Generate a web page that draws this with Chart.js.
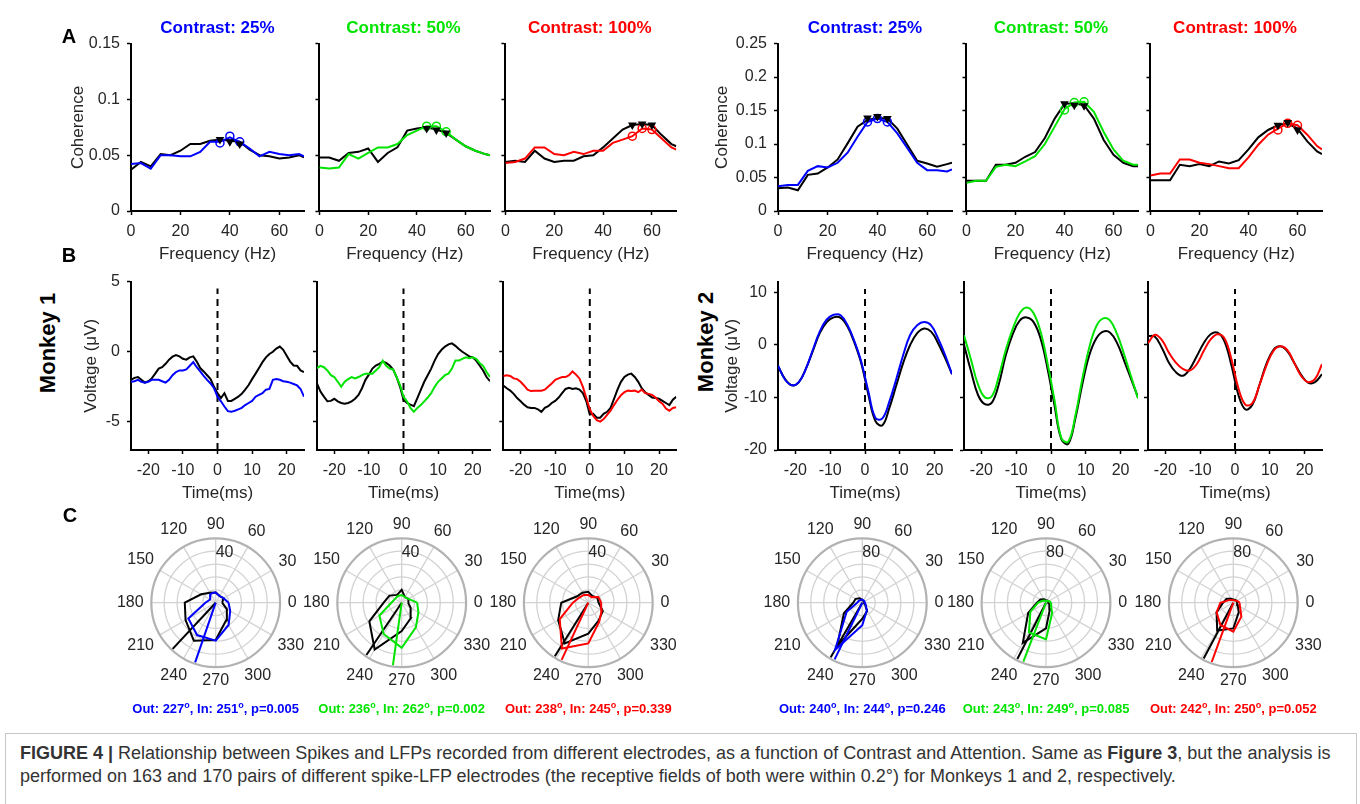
<!DOCTYPE html>
<html>
<head>
<meta charset="utf-8">
<title>Figure 4</title>
<script src="https://cdn.jsdelivr.net/npm/chart.js@4.4.1/dist/chart.umd.min.js"></script>
<style>
  body { margin: 0; background: #fff; }
  #fig { position: relative; width: 1360px; height: 804px; overflow: hidden; font-family: "Liberation Sans", Arial, sans-serif; color: #262626; }
  .lbl { position: absolute; transform: translate(-50%, -50%); white-space: nowrap; line-height: 1.2; }
  .rot { transform: translate(-50%, -50%) rotate(-90deg); }
  .ttl { font-size: 17px; font-weight: bold; }
  .let { font-size: 20px; font-weight: bold; color: #000; }
  .mky { font-size: 22px; font-weight: bold; color: #000; }
  .stat { font-size: 13px; font-weight: bold; }
  .stat sup { font-size: 9px; line-height: 0; vertical-align: 5px; }
  #cap { position: absolute; left: 5px; top: 733px; width: 1336px; height: 80px; border: 1px solid #c8c8c8; padding: 8px 0 0 14px; font-size: 18px; line-height: 23px; color: #333; white-space: nowrap; }
</style>
</head>
<body>
<div id="fig">
  <div id="cap"><b>FIGURE 4 |</b> Relationship between Spikes and LFPs recorded from different electrodes, as a function of Contrast and Attention. Same as <b>Figure 3</b>, but the analysis is<br>performed on 163 and 170 pairs of different spike-LFP electrodes (the receptive fields of both were within 0.2°) for Monkeys 1 and 2, respectively.</div>
</div>
<script>
// ---- data ----
const contrastLabels = ['Contrast: 25%', 'Contrast: 50%', 'Contrast: 100%'];

// A: coherence vs frequency
const freqHz = [0, 4, 8, 12, 16, 20, 24, 28, 32, 36, 40, 44, 48, 52, 56, 60, 64, 68, 70];
const freqTicks = [0, 20, 40, 60];
const cohTicksM1 = [0, 0.05, 0.1, 0.15];
const cohTicksM2 = [0, 0.05, 0.1, 0.15, 0.2, 0.25];

const m1Coh25Out = [0.037, 0.044, 0.040, 0.051, 0.050, 0.054, 0.060, 0.060, 0.063, 0.064, 0.063, 0.062, 0.055, 0.050, 0.049, 0.047, 0.048, 0.050, 0.048];
const m1Coh25In = [0.042, 0.043, 0.038, 0.050, 0.050, 0.049, 0.049, 0.053, 0.062, 0.062, 0.066, 0.062, 0.056, 0.049, 0.053, 0.051, 0.050, 0.051, 0.049];
const m1Coh50Out = [0.048, 0.048, 0.045, 0.052, 0.053, 0.056, 0.044, 0.052, 0.057, 0.072, 0.074, 0.075, 0.073, 0.070, 0.064, 0.058, 0.054, 0.051, 0.050];
const m1Coh50In = [0.039, 0.038, 0.039, 0.051, 0.047, 0.052, 0.057, 0.057, 0.060, 0.068, 0.072, 0.076, 0.076, 0.071, 0.064, 0.058, 0.054, 0.051, 0.050];
const m1Coh100Out = [0.044, 0.045, 0.044, 0.054, 0.047, 0.044, 0.045, 0.045, 0.049, 0.050, 0.057, 0.065, 0.073, 0.077, 0.078, 0.077, 0.068, 0.060, 0.058];
const m1Coh100In = [0.043, 0.044, 0.047, 0.057, 0.057, 0.051, 0.050, 0.053, 0.051, 0.054, 0.054, 0.061, 0.064, 0.067, 0.074, 0.073, 0.065, 0.057, 0.055];
const m2Coh25Out = [0.034, 0.035, 0.031, 0.054, 0.056, 0.065, 0.077, 0.101, 0.126, 0.136, 0.139, 0.138, 0.123, 0.099, 0.075, 0.071, 0.066, 0.070, 0.072];
const m2Coh25In = [0.037, 0.039, 0.039, 0.060, 0.067, 0.065, 0.072, 0.087, 0.111, 0.133, 0.138, 0.133, 0.116, 0.094, 0.072, 0.061, 0.061, 0.059, 0.062];
const m2Coh50Out = [0.045, 0.045, 0.045, 0.069, 0.069, 0.072, 0.081, 0.088, 0.109, 0.138, 0.160, 0.161, 0.158, 0.138, 0.106, 0.084, 0.072, 0.067, 0.067];
const m2Coh50In = [0.042, 0.045, 0.045, 0.066, 0.069, 0.067, 0.074, 0.082, 0.100, 0.126, 0.152, 0.162, 0.163, 0.148, 0.118, 0.092, 0.075, 0.069, 0.069];
const m2Coh100Out = [0.046, 0.046, 0.046, 0.069, 0.067, 0.070, 0.067, 0.074, 0.071, 0.076, 0.092, 0.110, 0.121, 0.128, 0.131, 0.123, 0.104, 0.089, 0.085];
const m2Coh100In = [0.053, 0.056, 0.056, 0.077, 0.077, 0.072, 0.070, 0.067, 0.064, 0.064, 0.080, 0.099, 0.114, 0.123, 0.131, 0.128, 0.114, 0.097, 0.092];

// peak markers (frequency, attend-out value, attend-in value)
const m1PeakHz25 = [36, 40, 44], m1PeakOut25 = [0.064, 0.062, 0.060], m1PeakIn25 = [0.061, 0.067, 0.062];
const m1PeakHz50 = [44, 48, 52], m1PeakOut50 = [0.074, 0.0725, 0.070], m1PeakIn50 = [0.076, 0.076, 0.071];
const m1PeakHz100 = [52, 56, 60], m1PeakOut100 = [0.077, 0.078, 0.077], m1PeakIn100 = [0.067, 0.074, 0.073];
const m2PeakHz25 = [36, 40, 44], m2PeakOut25 = [0.139, 0.141, 0.138], m2PeakIn25 = [0.133, 0.138, 0.133];
const m2PeakHz50 = [40, 44, 48], m2PeakOut50 = [0.160, 0.158, 0.157], m2PeakIn50 = [0.151, 0.162, 0.163];
const m2PeakHz100 = [52, 56, 60], m2PeakOut100 = [0.128, 0.132, 0.121], m2PeakIn100 = [0.121, 0.131, 0.128];

// B: spike-triggered LFP
const timeM1 = [-25, -24, -23, -22, -21, -20, -19, -18, -17, -16, -15, -14, -13, -12, -11, -10, -9, -8, -7, -6, -5, -4, -3, -2, -1,
  0, 1, 2, 3, 4, 5, 6, 7, 8, 9, 10, 11, 12, 13, 14, 15, 16, 17, 18, 19, 20, 21, 22, 23, 24, 25];
const timeM2 = [-25, -23, -21, -19, -17, -15, -13, -11, -9, -7, -5, -3, -1, 1, 3, 5, 7, 9, 11, 13, 15, 17, 19, 21, 23, 25];
const timeTicks = [-20, -10, 0, 10, 20];
const voltTicksM1 = [-5, 0, 5];
const voltTicksM2 = [-20, -10, 0, 10];
const spikeLineM1 = [-7, 4.5];
const spikeLineM2 = [-20, 10.6];

const m1Lfp25Out = [-2.0, -1.86, -1.8, -2.0, -2.2, -2.1, -1.9, -1.56, -1.2, -1.1, -0.86, -0.56, -0.35, -0.23, -0.33, -0.5, -0.56, -0.4, -0.33, -0.7, -1.16, -1.4, -1.67, -1.95, -2.5,
  -2.95, -3.3, -2.95, -3.5, -3.5, -3.35, -3.2, -3.0, -2.7, -2.37, -1.95, -1.56, -1.16, -0.74, -0.4, -0.16, 0, 0.23, 0.37, 0.14, -0.28, -0.7, -0.98, -1.0, -1.33, -1.44];
const m1Lfp25In = [-2.14, -2.1, -2.0, -2.14, -2.2, -2.14, -2.0, -2.0, -2.0, -2.1, -2.2, -2.0, -1.67, -1.44, -1.33, -1.33, -1.26, -1.0, -0.74, -1.1, -1.4, -1.72, -2.0, -2.26, -2.6,
  -3.2, -3.53, -3.9, -4.23, -4.28, -4.2, -4.1, -4.0, -3.8, -3.65, -3.5, -3.2, -3.07, -2.95, -2.7, -2.65, -2.0, -1.95, -2.0, -2.1, -2.14, -2.2, -2.3, -2.4, -2.65, -3.2];
const m1Lfp50Out = [-2.26, -2.84, -3.2, -3.53, -3.5, -3.35, -3.53, -3.65, -3.7, -3.65, -3.53, -3.35, -3.07, -2.6, -2.0, -1.63, -1.2, -0.98, -0.86, -0.7, -0.8, -0.98, -1.26, -1.8, -2.5,
  -3.42, -3.65, -3.77, -3.88, -3.3, -2.72, -2.14, -1.67, -1.2, -0.63, -0.16, 0.14, 0.37, 0.53, 0.6, 0.42, 0.19, 0, -0.16, -0.33, -0.4, -0.63, -0.98, -1.33, -1.8, -2.1];
const m1Lfp50In = [-1.16, -1.0, -1.1, -1.33, -1.67, -1.8, -2.14, -2.5, -2.14, -1.95, -1.8, -1.9, -1.8, -1.67, -1.56, -1.56, -1.56, -1.33, -1.1, -0.63, -1.0, -1.2, -1.26, -1.8, -2.37,
  -3.2, -3.53, -4.0, -4.28, -4.0, -3.8, -3.53, -3.26, -2.95, -2.5, -2.14, -1.9, -1.67, -1.56, -1.2, -0.63, -0.63, -0.5, -0.4, -0.46, -0.4, -0.5, -0.8, -1.0, -1.44, -1.8];
const m1Lfp100Out = [-2.4, -2.6, -2.77, -3.0, -3.3, -3.53, -3.77, -3.95, -4.0, -4.0, -4.1, -4.28, -4.0, -3.88, -3.65, -3.5, -3.26, -2.95, -2.65, -2.56, -2.65, -2.6, -2.7, -2.95, -3.53,
  -4.47, -4.42, -4.7, -4.7, -4.42, -4.28, -4.0, -3.35, -2.7, -2.14, -1.8, -1.63, -1.56, -1.8, -2.14, -2.6, -2.88, -3.07, -3.26, -3.3, -3.35, -3.5, -3.65, -3.8, -3.42, -3.2];
const m1Lfp100In = [-1.72, -1.67, -1.72, -1.9, -1.95, -2.14, -2.4, -2.7, -2.8, -2.77, -2.77, -2.77, -2.7, -2.47, -2.26, -2.0, -1.9, -1.8, -1.8, -1.67, -1.4, -1.63, -1.9, -2.5, -3.3,
  -4.1, -4.58, -4.88, -4.98, -4.8, -4.5, -4.2, -3.8, -3.42, -3.1, -2.88, -2.77, -2.8, -2.77, -2.88, -2.7, -2.95, -3.0, -3.07, -3.26, -3.53, -3.7, -4.05, -4.2, -4.0, -3.95];

const m2Lfp25Out = [-4.0, -6.5, -7.7, -7.1, -4.6, -1.2, 2.2, 4.3, 5.2, 5.1, 3.4, 0.3, -3.7, -9.6, -14.5, -15.3, -12.0, -7.7, -3.4, 0, 2.2, 3.1, 2.5, 0.3, -2.5, -5.6];
const m2Lfp25In = [-4.0, -6.6, -7.7, -7.1, -4.6, -1.0, 2.5, 4.8, 5.7, 5.6, 3.7, 0.6, -3.4, -9.0, -13.9, -14.0, -10.8, -6.5, -1.9, 1.9, 3.7, 4.3, 3.7, 1.2, -1.9, -5.6];
const m2Lfp50Out = [0, -5.0, -9.5, -11.3, -11.0, -7.5, -2.0, 2.0, 4.6, 5.2, 4.3, 1.2, -4.5, -11.5, -18.0, -18.8, -14.0, -7.5, -2.0, 1.2, 2.5, 2.3, 0.3, -3.0, -6.5, -10.0];
const m2Lfp50In = [1.8, -2.8, -7.5, -10.0, -9.8, -6.0, -1.0, 3.0, 6.0, 7.1, 6.0, 2.5, -3.5, -10.5, -17.8, -18.4, -13.5, -6.5, -0.5, 3.5, 5.0, 4.6, 2.0, -1.8, -6.0, -10.2];
const m2Lfp100Out = [1.7, 1.5, -0.6, -3.4, -5.2, -5.9, -4.6, -2.2, 0.3, 2.0, 2.3, 0.6, -4.0, -9.6, -12.3, -11.4, -7.7, -3.7, -1.0, -0.3, -1.2, -3.4, -5.7, -7.2, -7.1, -5.6];
const m2Lfp100In = [0.3, 1.9, 0.9, -1.5, -3.4, -4.6, -4.9, -3.7, -1.2, 1.0, 2.0, 1.2, -2.8, -8.3, -11.4, -11.1, -7.7, -4.0, -1.2, -0.3, -1.0, -3.4, -5.9, -7.1, -6.5, -3.7];

// C: spike phase distributions (bin centres in degrees, counts)
const binDeg = [0, 30, 60, 90, 120, 150, 180, 210, 240, 270, 300, 330];
const polarAngleTicks = [0, 30, 60, 90, 120, 150, 180, 210, 240, 270, 300, 330];
const ringsM1 = [10, 20, 30, 40, 50], ringLabelM1 = 40;
const ringsM2 = [20, 40, 60, 80, 100], ringLabelM2 = 80;

const m1Rose25Out = [5, 7, 6, 8, 9, 13, 24, 27, 34, 29, 16, 10];
const m1Rose25In = [10, 7, 6, 8, 8, 5, 8, 24.5, 29, 29.5, 20, 13];
const m1Rose50Out = [5, 6, 5, 10, 7, 11, 14, 29, 42, 22, 14, 8];
const m1Rose50In = [12, 6, 5, 6, 6, 6, 8, 20, 28, 35, 22, 15];
const m1Rose100Out = [8, 8, 6, 8.5, 9, 10, 21, 27, 36.5, 24, 16, 13];
const m1Rose100In = [10, 9, 5, 6, 7, 8, 12, 25.6, 41, 31.6, 17, 12];
const m2Rose25Out = [2, 3, 3, 4, 8, 12, 14, 33, 78, 25, 15, 5];
const m2Rose25In = [4, 4, 4, 5, 5, 6, 8, 28, 85, 35, 14, 6];
const m2Rose50Out = [4, 4, 4, 4, 6, 10, 14, 32, 72, 40, 12, 6];
const m2Rose50In = [8, 5, 3, 3, 4, 6, 12, 28, 53, 57, 19, 9];
const m2Rose100Out = [6, 6, 5, 5, 7, 12, 16, 30, 50, 40, 17, 8];
const m2Rose100In = [10, 6, 4, 4, 5, 8, 20, 30, 40, 45, 25, 12];

const m1MeanOut = [227, 236, 238], m1MeanIn = [251, 262, 245], m1PValue = ['0.005', '0.002', '0.339'];
const m2MeanOut = [240, 243, 242], m2MeanIn = [244, 249, 250], m2PValue = ['0.246', '0.085', '0.052'];

// ---- drawing ----
const FONT = '"Liberation Sans", Arial, sans-serif';
const BLACK = '#000000';
const condColors = ['#0000ff', '#00e400', '#ff0000'];
const TXT = '#262626';
const TICK_SIZE = 16;
Chart.defaults.font.family = FONT;
Chart.defaults.color = TXT;

const fig = document.getElementById('fig');

function addCanvas(left, top, w, h) {
  const c = document.createElement('canvas');
  c.width = w; c.height = h;
  c.style.cssText = `position:absolute;left:${left}px;top:${top}px;width:${w}px;height:${h}px`;
  fig.appendChild(c);
  return c;
}

function addText(html, x, y, cls, color) {
  const d = document.createElement('div');
  d.className = 'lbl ' + cls;
  d.style.left = x + 'px';
  d.style.top = y + 'px';
  if (color) d.style.color = color;
  d.innerHTML = html;
  fig.appendChild(d);
}

const pts = (xs, ys) => xs.map((x, i) => ({ x, y: ys[i] }));

function trace(xs, ys, color, tension) {
  return { data: pts(xs, ys), borderColor: color, borderWidth: 2, pointRadius: 0,
           tension: tension || 0, order: color === BLACK ? 2 : 1 };
}

function peakMarks(xs, ys, color) {
  const isOut = color === BLACK;
  return { data: pts(xs, ys), showLine: false, order: 0,
           pointStyle: isOut ? 'triangle' : 'circle', rotation: isOut ? 180 : 0,
           pointRadius: isOut ? 3.5 : 4, pointBorderWidth: 1.5,
           pointBorderColor: color, pointBackgroundColor: isOut ? BLACK : 'rgba(0,0,0,0)' };
}

function axisCfg(min, max, ticks, showLabels, title, fit, pad, fmt) {
  return {
    type: 'linear', min, max,
    afterBuildTicks: s => { s.ticks = ticks.map(v => ({ value: v })); },
    afterFit: fit,
    border: { display: true, color: '#000', width: 2 },
    grid: { display: true, drawOnChartArea: false, drawTicks: true, tickLength: 4, tickWidth: 1.5, tickColor: '#000' },
    ticks: { padding: pad, maxRotation: 0, autoSkip: false, color: TXT, font: { size: TICK_SIZE },
             callback: v => showLabels ? (fmt ? fmt(v) : String(v)) : '' },
    title: { display: !!title, text: title || '', color: TXT, font: { size: 17 }, padding: 0 }
  };
}

function linePanel(o) {
  const padTop = 12;
  const left = Math.round(o.axisX - o.yw);
  const top = Math.round(o.axisTop - padTop);
  const yw = o.axisX - left;
  const w = Math.ceil(yw + o.plotW + 10);
  const padRight = w - yw - o.plotW;
  const h = Math.round(o.axisTop - top + o.plotH + o.xh);
  const canvas = addCanvas(left, top, w, h);
  new Chart(canvas, {
    type: 'line',
    data: { datasets: o.datasets },
    options: {
      responsive: false, animation: false, events: [],
      layout: { padding: { top: o.axisTop - top, right: padRight, bottom: 0, left: 0 } },
      plugins: { legend: { display: false }, tooltip: { enabled: false } },
      scales: {
        x: axisCfg(o.xMin, o.xMax, o.xTicks, true, o.xTitle, s => { s.height = o.xh; }, 7),
        y: axisCfg(o.yMin, o.yMax, o.yTicks, o.yLabels, o.yTitle, s => { s.width = yw; }, 7, o.yFmt)
      }
    }
  });
}

const polarGrid = {
  id: 'polarGrid',
  beforeDatasetsDraw(chart, args, opts) {
    const { ctx, scales: { x, y } } = chart;
    const cx = x.getPixelForValue(0), cy = y.getPixelForValue(0);
    const R = x.getPixelForValue(opts.rMax) - cx;
    ctx.save();
    ctx.strokeStyle = '#d2d2d2';
    ctx.lineWidth = 1.3;
    polarAngleTicks.forEach(a => {
      const t = a * Math.PI / 180;
      ctx.beginPath();
      ctx.moveTo(cx, cy);
      ctx.lineTo(cx + R * Math.cos(t), cy - R * Math.sin(t));
      ctx.stroke();
    });
    opts.rings.forEach(r => {
      const rp = x.getPixelForValue(r) - cx;
      ctx.beginPath();
      ctx.lineWidth = r === opts.rMax ? 2.2 : 1.3;
      ctx.strokeStyle = r === opts.rMax ? '#b2b2b2' : '#d2d2d2';
      ctx.arc(cx, cy, rp, 0, Math.PI * 2);
      ctx.stroke();
    });
    ctx.fillStyle = TXT;
    ctx.font = TICK_SIZE + 'px ' + FONT;
    ctx.textAlign = 'center';
    ctx.textBaseline = 'middle';
    polarAngleTicks.forEach(a => {
      const t = a * Math.PI / 180, c = Math.cos(t), s = Math.sin(t);
      const txt = String(a);
      const tw = ctx.measureText(txt).width;
      const rl = R * 1.12 + Math.abs(c) * tw / 2 + Math.abs(s) * 6;
      ctx.fillText(txt, cx + rl * c, cy - rl * s);
    });
    ctx.textAlign = 'left';
    ctx.fillText(String(opts.ringLabel), cx, y.getPixelForValue(opts.ringLabel) + 1);
    ctx.restore();
  }
};

function roseXY(deg, r) {
  const p = deg.map((a, i) => ({ x: r[i] * Math.cos(a * Math.PI / 180), y: r[i] * Math.sin(a * Math.PI / 180) }));
  p.push(p[0]);
  return p;
}

function meanXY(deg, rMax) {
  const a = deg * Math.PI / 180, r = rMax * 0.98;
  return [{ x: 0, y: 0 }, { x: r * Math.cos(a), y: r * Math.sin(a) }];
}

function polarPanel(cx, cy, R, rMax, rings, ringLabel, outR, inR, outDeg, inDeg, color) {
  const W = 220, H = 200;
  const left = Math.round(cx - W / 2), top = Math.round(cy - H / 2);
  const canvas = addCanvas(left, top, W, H);
  const line = (data, col) => ({ data, showLine: true, borderColor: col, borderWidth: 2, pointRadius: 0,
                                 order: col === BLACK ? 2 : 1, clip: false });
  new Chart(canvas, {
    type: 'scatter',
    data: { datasets: [
      line(roseXY(binDeg, inR), color), line(meanXY(inDeg, rMax), color),
      line(roseXY(binDeg, outR), BLACK), line(meanXY(outDeg, rMax), BLACK)
    ] },
    options: {
      responsive: false, animation: false, events: [],
      layout: { padding: { left: cx - R - left, right: left + W - cx - R, top: cy - R - top, bottom: top + H - cy - R } },
      plugins: { legend: { display: false }, tooltip: { enabled: false }, polarGrid: { rMax, rings, ringLabel } },
      scales: {
        x: { type: 'linear', display: false, min: -rMax, max: rMax },
        y: { type: 'linear', display: false, min: -rMax, max: rMax }
      }
    },
    plugins: [polarGrid]
  });
}

// layout (pixels)
const axesXM1 = [131, 317, 503.3], axesXM2 = [778, 964, 1148];
const plotWM1 = 173, plotWM2 = 174;
const cohFmt = v => String(+v.toFixed(2));

const monkeys = [
  { axes: axesXM1, plotW: plotWM1, cohMax: 0.15, cohTicks: cohTicksM1,
    coh: [[m1Coh25Out, m1Coh25In], [m1Coh50Out, m1Coh50In], [m1Coh100Out, m1Coh100In]],
    peaks: [[m1PeakHz25, m1PeakOut25, m1PeakIn25], [m1PeakHz50, m1PeakOut50, m1PeakIn50], [m1PeakHz100, m1PeakOut100, m1PeakIn100]],
    time: timeM1, tension: 0, vMin: -7, vMax: 5, vTicks: voltTicksM1, spike: spikeLineM1,
    lfp: [[m1Lfp25Out, m1Lfp25In], [m1Lfp50Out, m1Lfp50In], [m1Lfp100Out, m1Lfp100In]],
    ywA: 63, ywB: 50, rMax: 50, rings: ringsM1, ringLabel: ringLabelM1,
    rose: [[m1Rose25Out, m1Rose25In], [m1Rose50Out, m1Rose50In], [m1Rose100Out, m1Rose100In]],
    meanOut: m1MeanOut, meanIn: m1MeanIn, p: m1PValue,
    polarX: [215.7, 401.7, 588.3], name: 'Monkey 1', nameX: 48, nameY: 343 },
  { axes: axesXM2, plotW: plotWM2, cohMax: 0.25, cohTicks: cohTicksM2,
    coh: [[m2Coh25Out, m2Coh25In], [m2Coh50Out, m2Coh50In], [m2Coh100Out, m2Coh100In]],
    peaks: [[m2PeakHz25, m2PeakOut25, m2PeakIn25], [m2PeakHz50, m2PeakOut50, m2PeakIn50], [m2PeakHz100, m2PeakOut100, m2PeakIn100]],
    time: timeM2, tension: 0.4, vMin: -20, vMax: 12, vTicks: voltTicksM2, spike: spikeLineM2,
    lfp: [[m2Lfp25Out, m2Lfp25In], [m2Lfp50Out, m2Lfp50In], [m2Lfp100Out, m2Lfp100In]],
    ywA: 66.5, ywB: 56.5, rMax: 100, rings: ringsM2, ringLabel: ringLabelM2,
    rose: [[m2Rose25Out, m2Rose25In], [m2Rose50Out, m2Rose50In], [m2Rose100Out, m2Rose100In]],
    meanOut: m2MeanOut, meanIn: m2MeanIn, p: m2PValue,
    polarX: [862.3, 1046, 1233.3], name: 'Monkey 2', nameX: 706, nameY: 342 }
];

monkeys.forEach(m => {
  for (let k = 0; k < 3; k++) {
    const col = condColors[k];
    const first = k === 0;
    // A
    linePanel({
      axisX: m.axes[k], axisTop: 39, plotW: m.plotW, plotH: 172, xh: 54, yw: first ? m.ywA : 9,
      xMin: 0, xMax: 70, xTicks: freqTicks, xTitle: 'Frequency (Hz)',
      yMin: 0, yMax: m.cohMax, yTicks: m.cohTicks, yLabels: first, yTitle: first ? 'Coherence' : '', yFmt: cohFmt,
      datasets: [
        trace(freqHz, m.coh[k][0], BLACK), trace(freqHz, m.coh[k][1], col),
        peakMarks(m.peaks[k][0], m.peaks[k][1], BLACK), peakMarks(m.peaks[k][0], m.peaks[k][2], col)
      ]
    });
    addText(contrastLabels[k], m.axes[k] + m.plotW / 2, 28, 'ttl', col);
    // B
    linePanel({
      axisX: m.axes[k], axisTop: 277, plotH: 173, plotW: m.plotW, xh: 54, yw: first ? m.ywB : 9,
      xMin: -25, xMax: 25, xTicks: timeTicks, xTitle: 'Time(ms)',
      yMin: m.vMin, yMax: m.vMax, yTicks: m.vTicks, yLabels: first, yTitle: first ? 'Voltage (\u03bcV)' : '',
      datasets: [
        { data: pts([0, 0], m.spike), borderColor: BLACK, borderWidth: 2, borderDash: [7, 5], pointRadius: 0, order: 3 },
        trace(m.time, m.lfp[k][0], BLACK, m.tension), trace(m.time, m.lfp[k][1], col, m.tension)
      ]
    });
    // C
    polarPanel(m.polarX[k], 602.7, 64.4, m.rMax, m.rings, m.ringLabel, m.rose[k][0], m.rose[k][1], m.meanOut[k], m.meanIn[k], col);
    addText(`Out: ${m.meanOut[k]}<sup>o</sup>, In: ${m.meanIn[k]}<sup>o</sup>, p=${m.p[k]}`, m.polarX[k], 709, 'stat', col);
  }
  addText(m.name, m.nameX, m.nameY, 'mky rot');
});

addText('A', 69, 36, 'let');
addText('B', 69, 255, 'let');
addText('C', 70, 515, 'let');
</script>
</body>
</html>
